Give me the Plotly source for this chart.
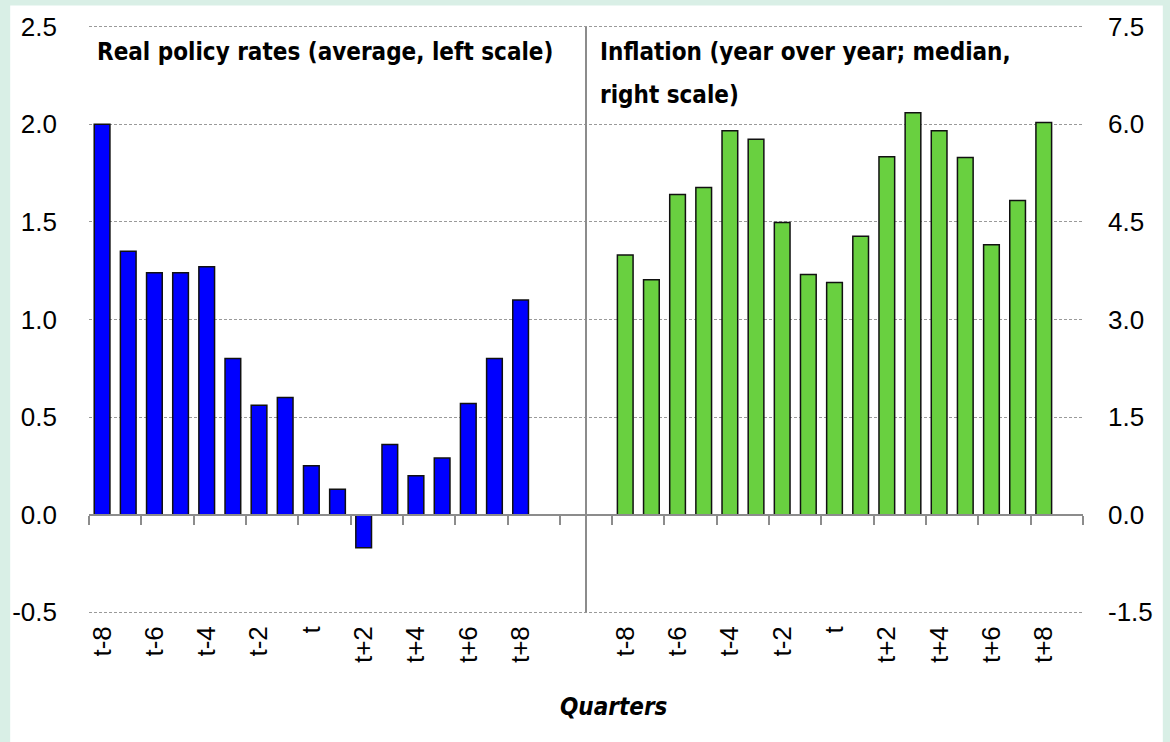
import plotly.graph_objects as go

quarters = ["t-8", "t-7", "t-6", "t-5", "t-4", "t-3", "t-2", "t-1", "t",
            "t+1", "t+2", "t+3", "t+4", "t+5", "t+6", "t+7", "t+8"]
real_policy_rates = [2.00, 1.35, 1.24, 1.24, 1.27, 0.80, 0.56, 0.60, 0.25,
                     0.13, -0.17, 0.36, 0.20, 0.29, 0.57, 0.80, 1.10]
inflation = [3.99, 3.61, 4.92, 5.03, 5.90, 5.77, 4.49, 3.69, 3.57,
             4.28, 5.50, 6.18, 5.90, 5.49, 4.15, 4.83, 6.03]
left_ticks = [-0.5, 0.0, 0.5, 1.0, 1.5, 2.0, 2.5]
right_ticks = [-1.5, 0.0, 1.5, 3.0, 4.5, 6.0, 7.5]

n = len(quarters)
gap = 3
total = 2 * n + gap + 1
left_x = list(range(n))
right_x = [n + gap + i for i in range(n)]
sep_x = n + 1.5
xr = [-0.5, total - 0.5]
pad = 0.003
spl = left_ticks[-1] - left_ticks[0]
spr = right_ticks[-1] - right_ticks[0]
yl = [left_ticks[0] - pad * spl, left_ticks[-1] + pad * spl]
yr = [right_ticks[0] - pad * spr, right_ticks[-1] + pad * spr]

BG = "#d9efe6"
GRID = "#9a9a9a"
AXC = "#8c8c8c"
COND = "DejaVu Sans Condensed, Liberation Sans Narrow, Arial Narrow, sans-serif"
SANS = "Liberation Sans, Arial, sans-serif"

fig = go.Figure()
fig.add_trace(go.Bar(x=left_x, y=real_policy_rates, width=0.6,
                     marker=dict(color="#0000ff", line=dict(color="#111111", width=1.5)),
                     showlegend=False, yaxis="y"))
fig.add_trace(go.Bar(x=right_x, y=inflation, width=0.6,
                     marker=dict(color="#69d040", line=dict(color="#111111", width=1.5)),
                     showlegend=False, yaxis="y2"))
fig.add_trace(go.Scatter(x=[], y=[], xaxis="x2", yaxis="y", showlegend=False))

label_x = left_x[::2] + right_x[::2]
label_t = quarters[::2] + quarters[::2]
tick_b = [-0.5 + 2 * j for j in range(total // 2 + 1)]

fig.update_layout(
    width=1170, height=742,
    margin=dict(l=87, r=87, t=24, b=128),
    paper_bgcolor=BG, plot_bgcolor="white",
    barmode="overlay",
    xaxis=dict(range=xr, tickmode="array", tickvals=label_x, ticktext=label_t,
               tickangle=-90, ticks="", showgrid=False, zeroline=False, showline=False,
               ticklabelstandoff=6,
               tickfont=dict(family=SANS, size=26, color="black")),
    xaxis2=dict(range=xr, overlaying="x", anchor="free",
                position=(0 - yl[0]) / (yl[1] - yl[0]),
                tickmode="array", tickvals=tick_b, ticks="outside", ticklen=9,
                tickwidth=2, tickcolor=AXC, showticklabels=False,
                showline=True, linecolor=AXC, linewidth=2, showgrid=False, zeroline=False),
    yaxis=dict(range=yl, tickmode="array", tickvals=left_ticks,
               ticktext=[f"{v:.1f}" for v in left_ticks],
               showgrid=True, gridcolor=GRID, griddash="3px,2px", gridwidth=1,
               zeroline=False, showline=False, ticks="", ticklabelstandoff=31,
               tickfont=dict(family=SANS, size=26, color="black")),
    yaxis2=dict(range=yr, tickmode="array", tickvals=right_ticks,
                ticktext=[f"{v:.1f}" for v in right_ticks],
                overlaying="y", side="right", showgrid=False, zeroline=False,
                showline=False, ticks="", ticklabelstandoff=24,
                tickfont=dict(family=SANS, size=26, color="black")),
    shapes=[
        dict(type="rect", xref="paper", yref="paper", x0=-0.0793, x1=1.0803,
             y0=-0.35, y1=1.033, fillcolor="white", line=dict(width=0), layer="below"),
        dict(type="line", xref="x", yref="y", x0=sep_x, x1=sep_x,
             y0=left_ticks[0], y1=left_ticks[-1],
             line=dict(color=AXC, width=2)),
    ],
    annotations=[
        dict(text="<b>Real policy rates (average, left scale)</b>", xref="paper", yref="paper",
             x=0.006, y=0.954, xanchor="left", yanchor="middle", showarrow=False,
             font=dict(family=COND, size=24, color="black")),
        dict(text="<b>Inflation (year over year; median,</b>", xref="paper", yref="paper",
             x=0.512, y=0.954, xanchor="left", yanchor="middle", showarrow=False,
             font=dict(family=COND, size=24, color="black")),
        dict(text="<b>right scale)</b>", xref="paper", yref="paper",
             x=0.512, y=0.882, xanchor="left", yanchor="middle", showarrow=False,
             font=dict(family=COND, size=24, color="black")),
        dict(text="<b><i>Quarters</i></b>", xref="paper", yref="paper",
             x=0.528, y=-0.158, xanchor="center", yanchor="middle", showarrow=False,
             font=dict(family=COND, size=24, color="black")),
    ],
)

fig.write_html("out.html", config={"displayModeBar": False},
               post_script="document.body.style.margin='0';")
